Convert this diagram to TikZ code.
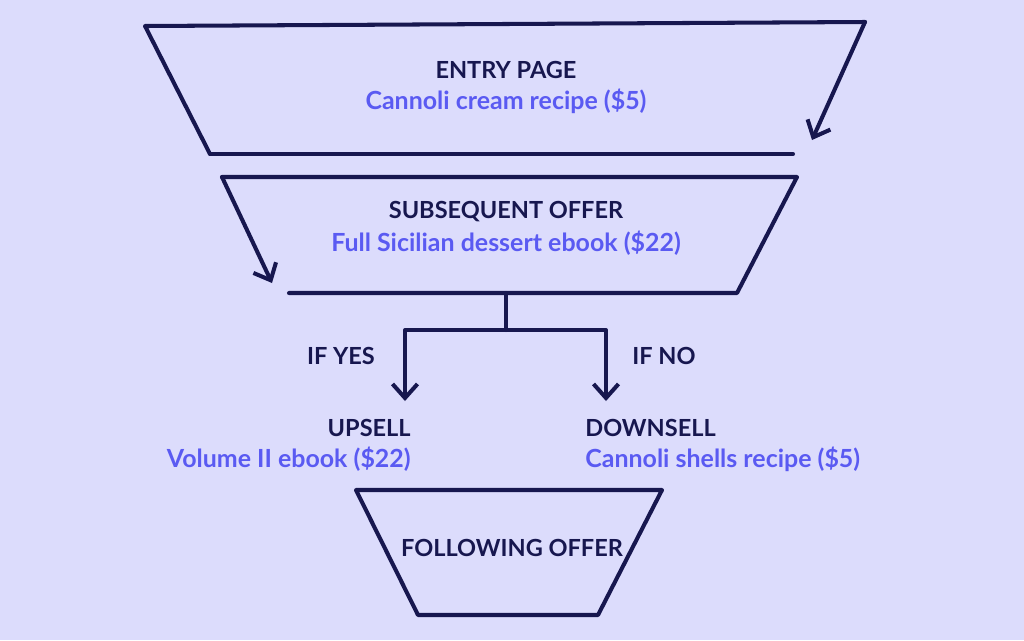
\documentclass[tikz,border=0pt]{standalone}
\usepackage{fontspec}
\setmainfont{Lato}
\usetikzlibrary{arrows.meta}
\definecolor{bg}{HTML}{DCDCFC}
\definecolor{navy}{HTML}{17174F}
\definecolor{violet}{HTML}{5A5AF2}
\tikzset{
  shapeline/.style={draw=navy, line width=2.3pt, line cap=round, line join=round},
  arr/.style={shapeline, -{Straight Barb[length=2.8mm, width=5mm, line width=2.3pt]}},
  title/.style={text=navy, font=\fontsize{13.4}{15}\selectfont\bfseries, inner sep=0pt},
  sub/.style={text=violet, font=\fontsize{14.2}{16}\selectfont\bfseries, inner sep=0pt},
}
\begin{document}
\begin{tikzpicture}[x=0.02cm, y=-0.02cm]
\fill[bg] (0,0) rectangle (1024,640);
\useasboundingbox (0,0) rectangle (1024,640);
% entry page
\coordinate (e1) at (145,26);
\coordinate (e2) at (865,22);
\coordinate (e3) at (812,140);
\coordinate (e4) at (210,154);
\coordinate (e5) at (793,154);
\draw[shapeline] (e4) -- (e1) -- (e2);
\draw[shapeline] (e4) -- (e5);
\draw[arr] (e2) -- (e3);
\node[title] (entry) at (506,70) {ENTRY PAGE};
\node[sub] (entrysub) at (506,101) {Cannoli cream recipe (\$5)};
% subsequent offer
\coordinate (s1) at (222,177);
\coordinate (s2) at (797,177);
\coordinate (s3) at (737,293);
\coordinate (s4) at (289,293);
\coordinate (s5) at (272,283);
\draw[shapeline] (s4) -- (s3) -- (s2) -- (s1);
\draw[arr] (s1) -- (s5);
\node[title] (subs) at (506,212) {SUBSEQUENT OFFER};
\node[sub] (subssub) at (506,243) {Full Sicilian dessert ebook (\$22)};
% branch
\coordinate (b0) at (506,293);
\coordinate (b1) at (506,330);
\coordinate (bl) at (405,330);
\coordinate (br) at (606,330);
\coordinate (tl) at (405,401);
\coordinate (tr) at (606,401);
\draw[shapeline] (b0) -- (b1);
\draw[arr] (b1) -- (bl) -- (tl);
\draw[arr] (b1) -- (br) -- (tr);
\node[title] (ifyes) at (341,356) {IF YES};
\node[title] (ifno) at (664,356) {IF NO};
\node[title, anchor=east] (up) at (411,428) {UPSELL};
\node[sub, anchor=east] (upsub) at (411,459) {Volume II ebook (\$22)};
\node[title, anchor=west] (down) at (585,428) {DOWNSELL};
\node[sub, anchor=west] (downsub) at (585,459) {Cannoli shells recipe (\$5)};
% following offer
\coordinate (f1) at (356,490);
\coordinate (f2) at (662,490);
\coordinate (f3) at (598,615);
\coordinate (f4) at (418,615);
\draw[shapeline] (f1) -- (f2) -- (f3) -- (f4) -- cycle;
\node[title] (follow) at (512,548) {FOLLOWING OFFER};
\end{tikzpicture}
\end{document}
